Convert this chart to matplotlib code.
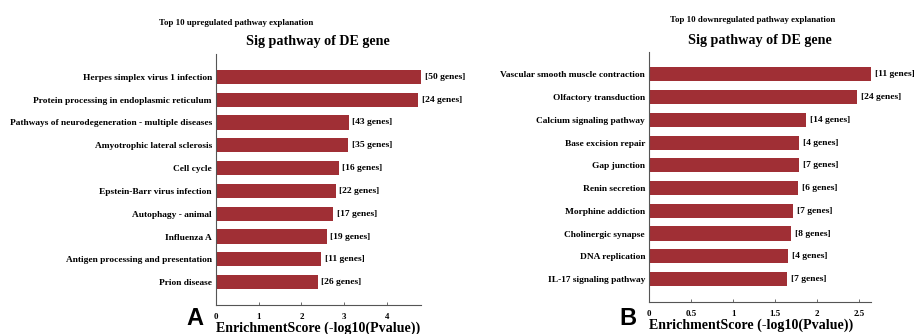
import matplotlib
matplotlib.use("Agg")
import matplotlib.pyplot as plt

# Upregulated pathways (top to bottom)
up_pathways = [
    "Herpes simplex virus 1 infection",
    "Protein processing in endoplasmic reticulum",
    "Pathways of neurodegeneration - multiple diseases",
    "Amyotrophic lateral sclerosis",
    "Cell cycle",
    "Epstein-Barr virus infection",
    "Autophagy - animal",
    "Influenza A",
    "Antigen processing and presentation",
    "Prion disease",
]
up_scores = [4.80, 4.74, 3.11, 3.10, 2.87, 2.80, 2.75, 2.59, 2.47, 2.38]
up_genes = [50, 24, 43, 35, 16, 22, 17, 19, 11, 26]
up_ticks = [0, 1, 2, 3, 4]

# Downregulated pathways (top to bottom)
down_pathways = [
    "Vascular smooth muscle contraction",
    "Olfactory transduction",
    "Calcium signaling pathway",
    "Base excision repair",
    "Gap junction",
    "Renin secretion",
    "Morphine addiction",
    "Cholinergic synapse",
    "DNA replication",
    "IL-17 signaling pathway",
]
down_scores = [2.64, 2.48, 1.87, 1.79, 1.79, 1.77, 1.71, 1.69, 1.65, 1.64]
down_genes = [11, 24, 14, 4, 7, 6, 7, 8, 4, 7]
down_ticks = [0, 0.5, 1, 1.5, 2, 2.5]

SERIF = "Liberation Serif"
BAR = "#a02f35"
AXC = "#555555"

fig = plt.figure(figsize=(9.17, 3.34), dpi=100)


def panel(rect, names, scores, genes, ticks, ticklabels):
    ax = fig.add_axes(rect)
    n = len(names)
    pos = list(range(n))
    ax.barh(pos, scores, height=0.62, color=BAR, edgecolor="none")
    ax.set_ylim(n, -1)
    ax.set_xlim(0, max(scores))
    ax.set_yticks(pos)
    ax.set_yticklabels(names, fontfamily=SERIF, fontweight="bold", fontsize=6.75)
    ax.tick_params(axis="y", length=0, pad=3)
    ax.set_xticks(ticks)
    ax.set_xticklabels(ticklabels, fontfamily=SERIF, fontweight="bold", fontsize=6.4)
    ax.tick_params(axis="x", direction="in", length=2, width=0.6, color=AXC, pad=6)
    for s in ("top", "right"):
        ax.spines[s].set_visible(False)
    for s in ("left", "bottom"):
        ax.spines[s].set_color(AXC)
        ax.spines[s].set_linewidth(0.8)
    for p, v, g in zip(pos, scores, genes):
        ax.text(v + max(scores) * 0.018, p, f"[{g} genes]", va="center", ha="left",
                fontfamily=SERIF, fontweight="bold", fontsize=6.8, clip_on=False)
    return ax


panel([0.2355, 0.0868, 0.2236, 0.7515], up_pathways, up_scores, up_genes,
      up_ticks, [str(t) for t in up_ticks])
panel([0.708, 0.0967, 0.2414, 0.7485], down_pathways, down_scores, down_genes,
      down_ticks, ["0", "0.5", "1", "1.5", "2", "2.5"])

# Panel titles
fig.text(0.257, 0.932, "Top 10 upregulated pathway explanation", ha="center", va="center",
         fontfamily=SERIF, fontweight="bold", fontsize=6.4)
fig.text(0.347, 0.875, "Sig pathway of DE gene", ha="center", va="center",
         fontfamily=SERIF, fontweight="bold", fontsize=10.2)
fig.text(0.821, 0.940, "Top 10 downregulated pathway explanation", ha="center", va="center",
         fontfamily=SERIF, fontweight="bold", fontsize=6.4)
fig.text(0.829, 0.880, "Sig pathway of DE gene", ha="center", va="center",
         fontfamily=SERIF, fontweight="bold", fontsize=10.2)

# Axis labels
fig.text(0.2355, 0.018, "EnrichmentScore (-log10(Pvalue))", ha="left", va="center",
         fontfamily=SERIF, fontweight="bold", fontsize=10.1)
fig.text(0.708, 0.025, "EnrichmentScore (-log10(Pvalue))", ha="left", va="center",
         fontfamily=SERIF, fontweight="bold", fontsize=10.1)

# Panel letters
fig.text(0.2126, 0.045, "A", ha="center", va="center", fontfamily="Liberation Sans",
         fontweight="bold", fontsize=17)
fig.text(0.685, 0.047, "B", ha="center", va="center", fontfamily="Liberation Sans",
         fontweight="bold", fontsize=17)

fig.savefig("out.png", dpi=100, facecolor="white")
